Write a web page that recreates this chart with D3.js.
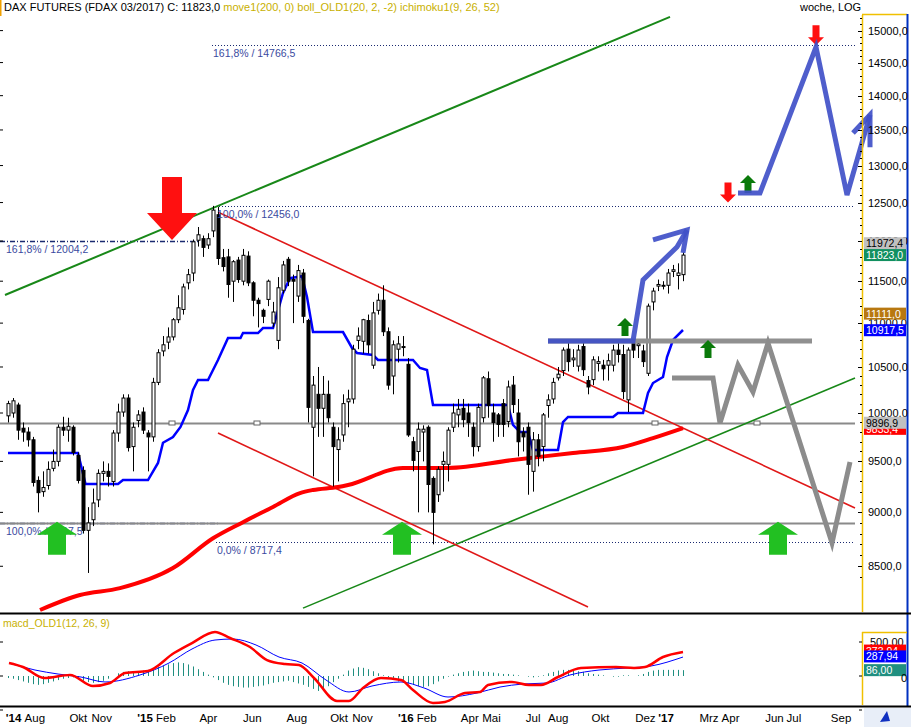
<!DOCTYPE html>
<html><head><meta charset="utf-8">
<script src="https://cdn.jsdelivr.net/npm/d3@7/dist/d3.min.js"></script>
<style>body{margin:0;background:#fff}svg{display:block;font-family:"Liberation Sans",Arial,sans-serif}</style>
</head><body><svg id="c" width="911" height="727"></svg>
<script>
// ---- data (weekly candles, index 0 = first week of Jul 2014) ----
const opens=[9970,10000,10085,9840,9800,9720,9310,9200,9260,9430,9500,9850,9820,9850,9560,9410,8830,8930,9120,9380,9400,9300,9790,10010,10160,9650,9920,10010,9790,9750,10330,10680,10780,10840,11040,11160,11480,11600,12010,12030,11950,12130,12340,11790,11800,11500,11760,11500,11810,11480,11270,11150,11280,11000,10800,11390,11770,11520,11320,11600,11030,9850,10200,10050,10200,9850,9620,9770,10120,10150,10800,10790,11030,10520,11150,11270,10900,10400,10700,10720,10530,9700,9600,9800,9850,9330,9170,9470,9470,9850,9980,10050,10000,9850,9650,9950,10370,10000,9980,10100,9910,10300,10000,9800,9850,9400,9720,9650,10080,10150,10380,10460,10700,10580,10510,10730,10350,10360,10540,10520,10520,10520,10690,10640,10140,10770,10740,10680,10430,11250,11440,11440,11450,11620,11570,11580];
const highs=[10130,10160,10110,9900,9850,9750,9350,9400,9500,9620,9880,9960,9950,9870,9590,9450,9050,9230,9420,9500,9480,9820,10100,10200,10200,9900,10030,10060,9820,10380,10700,10850,10950,11060,11330,11470,11650,12020,12180,12070,12100,12456,12440,11900,11900,11760,11800,11900,11870,11500,11300,11170,11520,11250,11550,11750,11800,11580,11700,11650,11050,10400,10500,10400,10350,9900,9850,10200,10250,10750,10950,11050,11100,11250,11350,11450,10950,10800,10850,10850,10600,9750,9900,9870,9870,9350,9450,9600,9850,10100,10150,10150,10100,9900,10100,10400,10450,10100,10000,10150,10350,10400,10150,9850,9900,9800,9780,10000,10200,10380,10500,10720,10780,10700,10750,10800,10400,10620,10620,10580,10650,10750,10800,10750,10720,10800,10800,10750,11230,11420,11520,11500,11650,11700,11720,11860];
const lows=[9900,9950,9720,9700,9650,9250,9000,9150,9220,9400,9450,9760,9700,9560,9280,8800,8440,8870,9050,9300,9250,9250,9700,9960,9600,9400,9850,9780,9400,9700,10300,10620,10700,10800,11000,11100,11400,11500,11930,11800,11900,12050,11700,11620,11300,11250,11480,11450,11440,11080,10950,11000,11200,10950,10700,11350,11440,11000,11250,11000,9900,9350,9750,9750,9900,9250,9300,9700,9850,10100,10700,10650,10650,10480,11100,10850,10250,10200,10550,10620,9750,9400,9000,9500,9000,8700,9100,9200,9300,9800,9850,9850,9750,9550,9600,9900,9950,9700,9750,9750,9850,10000,9550,9600,9170,9200,9450,9500,9950,10100,10350,10400,10450,10500,10450,10400,10200,10300,10450,10350,10350,10450,10550,10150,10010,10600,10600,10500,10400,11150,11380,11400,11350,11550,11400,11500];
const closes=[10100,10130,9820,9800,9720,9290,9190,9240,9420,9500,9850,9820,9860,9590,9310,8830,8900,9090,9380,9400,9350,9790,10010,10160,9640,9850,9980,9820,9750,10330,10660,10750,10840,11040,11180,11430,11580,11990,12080,11920,12030,12400,11780,11680,11460,11740,11520,11820,11480,11270,11230,11080,11500,11130,11420,11700,11500,11500,11630,11080,10060,10300,10050,10200,9950,9650,9720,10100,10150,10700,10850,11040,10750,11120,11270,10900,10300,10750,10760,10730,9770,9510,9830,9830,9270,9000,9420,9500,9820,10000,10040,9930,9900,9650,10060,10380,10080,9900,9880,9880,10280,10090,9700,9750,9470,9720,9550,9980,10140,10330,10420,10690,10560,10600,10690,10470,10280,10580,10560,10480,10570,10690,10640,10230,10690,10690,10760,10560,11200,11380,11460,11450,11600,11640,11600,11823];
// ichimoku line (week index, value)
const ichiIdx=[0,14,15.5,22,23,28,30,31,33,34.5,36,37,38,40,42,44,46.5,47,50,51,53,55,56.4,58.8,59.8,61,67,68.8,69.8,73,74,81,82.4,83.8,85,100,101,102.4,104,105,110,111,112,121,122,127,128,129,131,131.8,133,135];
const ichiVal=[9585,9585,9275,9275,9314,9314,9484,9690,9749,9853,10032,10247,10356,10356,10578,10828,10828,10885,10885,10942,10942,11358,11537,11561,11310,10896,10896,10714,10657,10634,10578,10578,10489,10467,10085,10085,9874,9800,9800,9615,9615,9905,9958,9958,10000,10000,10214,10323,10389,10611,10805,10920];
// 200 moving average
const maIdx=[6.4,14.4,22.4,33,41,47,53,58.4,61,66,68,79,88,101,113,123,129,135];
const maVal=[8115,8245,8305,8484,8756,8907,9052,9186,9216,9245,9265,9434,9434,9514,9585,9646,9738,9842];
// MACD
const macdX=[9,23,44,70,93,110,125,148,174,192,215,230,250,267,285,299,314,337,349,363,381,401,413,433,445,465,480,488,512,529,541,558,581,616,634,645,663,683];
const macdV=[191,132,-29,15,-147,-103,44,74,338,485,647,559,426,235,176,162,-29,-368,-368,-176,-29,-59,-206,-397,-382,-250,-235,-132,-88,-132,-132,-15,118,132,118,132,279,353];
const sigX=[9,35,58,81,105,140,169,192,215,233,256,279,302,326,349,372,401,424,448,477,500,523,547,570,599,628,651,683];
const sigV=[191,88,29,-15,-88,15,191,397,529,544,456,279,191,-59,-235,-147,-88,-176,-309,-250,-162,-118,-103,15,88,118,147,279];
const hist=[-30,-40,-60,-80,-100,-120,-130,-120,-100,-80,-60,-40,-30,-20,-40,-70,-90,-100,-90,-70,-40,0,40,60,70,60,70,80,90,110,130,150,170,190,200,190,170,140,100,60,20,-20,-60,-100,-130,-150,-160,-170,-170,-160,-150,-140,-120,-100,-90,-80,-70,-90,-110,-130,-160,-190,-220,-200,-150,-90,-40,20,80,110,130,120,100,70,40,10,-20,-50,-80,-100,-110,-130,-150,-160,-150,-120,-80,-40,-10,20,40,60,70,80,70,60,60,50,40,30,30,20,10,0,-10,-20,-10,10,40,60,80,90,90,80,70,60,40,30,20,10,0,-10,-10,10,10,0,10,30,60,80,90,90,90,90,90,86];
const priceTicks=[8500,9000,9500,10000,10500,11000,11500,12000,12500,13000,13500,14000,14500,15000];
const monthLabels=[["2014-08-01","'14","Aug"],["2014-10-01","","Okt"],["2014-11-01","","Nov"],["2015-02-01","'15","Feb"],["2015-04-01","","Apr"],["2015-06-01","","Jun"],["2015-08-01","","Aug"],["2015-10-01","","Okt"],["2015-11-01","","Nov"],["2016-02-01","'16","Feb"],["2016-04-01","","Apr"],["2016-05-01","","Mai"],["2016-07-01","","Jul"],["2016-08-01","","Aug"],["2016-10-01","","Okt"],["2016-12-01","","Dez"],["2017-01-01","'17",""],["2017-03-01","","Mrz"],["2017-04-01","","Apr"],["2017-06-01","","Jun"],["2017-07-01","","Jul"],["2017-09-01","","Sep"]];
// annotations [weekIndex, price]
const chanUp=[[-0.6,11333],[132.4,15219]], chanLow=[[59,8131],[169.4,10378]];
const trendDn=[[42,12374],[169.4,9042]], trendDn2=[[42,9790],[116,8140]];
const bluePath=[[108,10794],[125,10794],[127,11515],[133.8,11925],[135.8,12142]];
const blueHead=[[129,12014],[135.8,12142],[135,11850]];
const blueProj=[[146,12627],[150.4,12627],[161.6,14740],[167.8,12600],[172.4,13717]];
const blueProjHead=[[169,13456],[172.4,13717],[172.4,13256]];
const grayProj=[[132.8,10378],[141,10378],[142.4,9894],[146,10522],[149,10225],[152,10770],[164.8,8714],[168.4,9494]];
const grayRes=[[108,10794],[160.8,10794]];
const bigRed=[[32.8,12014]], bigGreen=[[9.8,8910],[78.8,8910],[154,8910]];
const smallGreen=[[123.4,11060],[140,10805],[148,12870]], smallRed=[[144,12500],[161.6,14770]];
const fibLines=[{p:14766.5,x0:40.8,t:"161,8% / 14766,5"},{p:12456,x0:41.6,t:"100,0% / 12456,0"},{p:8717.4,x0:41.6,t:"0,0% / 8717,4"}];
const fibLeft=[{p:12004.2,x1:38.4,t:"161,8% / 12004,2"},{p:8897.5,x1:42.4,t:"100,0% / 8897,5"}];
const valueBoxes=[["11972,4",11972.4,"#c0c0c0","#000"],["11823,0",11823,"#119060","#fff"],["11111,0",11111,"#b87810","#fff"],["10917,5",10917.5,"#0000ff","#fff"],["9833,4",9833.4,"#ff0000","#fff"],["9896,9",9896.9,"#c0c0c0","#000"]];

// ---- scales ----
const svg=d3.select("#c");
const x=d3.scaleLinear().domain([0,169.4]).range([8,855]);
const y=d3.scaleLog().domain([10000,15000]).range([413,30.6]);
const t0=new Date(2014,6,7);
const xd=d=>x((d-t0)/(7*864e5));
const ym=d3.scaleLinear().domain([0,500]).range([676,642]);
const P=a=>[x(a[0]),y(a[1])];
const line=d3.line();

svg.append("defs").append("clipPath").attr("id","mc").append("rect").attr("x",0).attr("y",15).attr("width",862).attr("height",598);
const g=svg.append("g").attr("clip-path","url(#mc)");

function hl(p,x0,x1,col,w,dash){g.append("line").attr("x1",x0).attr("x2",x1).attr("y1",Math.round(y(p))+.5).attr("y2",Math.round(y(p))+.5).attr("stroke",col).attr("stroke-width",w).attr("stroke-dasharray",dash||null);}
fibLines.forEach(f=>hl(f.p,x(f.x0),855,"#1a2a70",1,"1,2"));
fibLeft.forEach(f=>hl(f.p,0,x(f.x1),"#1a2a70",1.3,"5,2,1,2"));
hl(9896.9,0,855,"#8a8a8a",2);hl(8897.5,0,855,"#8a8a8a",2);
[172,257,655,757].forEach(xx=>g.append("rect").attr("x",xx-3).attr("y",Math.round(y(9896.9))-2).attr("width",6).attr("height",4).attr("fill","#fff").attr("stroke","#666"));

[[chanUp,"#188818",2],[chanLow,"#188818",1.6],[trendDn,"#e01818",1.6],[trendDn2,"#e01818",1.6]].forEach(([d,c,w])=>g.append("path").attr("d",line(d.map(P))).attr("stroke",c).attr("stroke-width",w).attr("fill","none"));

g.append("path").attr("d",d3.line().curve(d3.curveMonotoneX)(maIdx.map((v,i)=>[x(v),y(maVal[i])]))).attr("stroke","#ff0000").attr("stroke-width",4).attr("fill","none");
g.append("path").attr("d",line(ichiIdx.map((v,i)=>[x(v),y(ichiVal[i])]))).attr("stroke","#0000ff").attr("stroke-width",2.5).attr("fill","none");

closes.forEach((c,i)=>{const cx=Math.round(x(i))+.5,o=opens[i];
 g.append("line").attr("x1",cx).attr("x2",cx).attr("y1",y(highs[i])).attr("y2",y(lows[i])).attr("stroke","#000");
 const top=y(Math.max(o,c)),bot=y(Math.min(o,c));
 g.append("rect").attr("x",cx-1.5).attr("y",top).attr("width",3).attr("height",Math.max(1,bot-top)).attr("fill",c>=o?"#fff":"#000").attr("stroke","#000").attr("stroke-width",1);
});

g.append("path").attr("d",line(grayRes.map(P))).attr("stroke","#909090").attr("stroke-width",5).attr("fill","none");
g.append("path").attr("d",line(grayProj.map(P))).attr("stroke","#8c8c8c").attr("stroke-width",5).attr("fill","none");
fibLines.forEach(f=>g.append("text").attr("x",x(f.x0)+1).attr("y",y(f.p)+12).text(f.t).attr("font-size",10.5).attr("fill","#3a4aa0"));
fibLeft.forEach(f=>g.append("text").attr("x",6).attr("y",y(f.p)+12).text(f.t).attr("font-size",10.5).attr("fill","#3a4aa0"));

function arrow(px,py,dir,hw,hh,sw,sl,col){const s=dir;
 const pts=[[px,py],[px-hw,py-s*hh],[px-sw,py-s*hh],[px-sw,py-s*(hh+sl)],[px+sw,py-s*(hh+sl)],[px+sw,py-s*hh],[px+hw,py-s*hh]];
 svg.append("polygon").attr("points",pts.map(p=>p.join(",")).join(" ")).attr("fill",col);}
bigRed.forEach(a=>arrow(x(a[0]),y(a[1]),1,25,27,10,36,"#ff1010"));
bigGreen.forEach(a=>arrow(x(a[0]),y(a[1]),-1,20,13,9,20,"#22c022"));
smallGreen.forEach(a=>arrow(x(a[0]),y(a[1]),-1,8,8,3.5,10,"#0a7a0a"));
smallRed.forEach(a=>arrow(x(a[0]),y(a[1]),1,8,8,3.5,12,"#ff1010"));

const bl=svg.append("g").attr("fill","none").attr("stroke","#4050c8").attr("stroke-width",5).attr("stroke-opacity",.92);
[bluePath,blueHead,blueProj,blueProjHead].forEach(d=>bl.append("path").attr("d",line(d.map(P))));

svg.append("line").attr("x1",862.5).attr("x2",862.5).attr("y1",15).attr("y2",612).attr("stroke","#f0c000").attr("stroke-width",1.5);
svg.append("line").attr("x1",862).attr("x2",907).attr("y1",14.5).attr("y2",14.5).attr("stroke","#f0c000").attr("stroke-width",1.5);
svg.append("line").attr("x1",907.5).attr("x2",907.5).attr("y1",14).attr("y2",706).attr("stroke","#0030c0").attr("stroke-width",2);
svg.append("line").attr("x1",0).attr("x2",911).attr("y1",613.5).attr("y2",613.5).attr("stroke","#000").attr("stroke-width",2);
svg.append("line").attr("x1",0).attr("x2",911).attr("y1",706.5).attr("y2",706.5).attr("stroke","#000").attr("stroke-width",2);
svg.append("line").attr("x1",0.5).attr("x2",0.5).attr("y1",0).attr("y2",16).attr("stroke","#f0a000").attr("stroke-width",2);

const ax=svg.append("g");
d3.range(8400,15300,100).forEach(v=>{const yy=Math.round(y(v))+.5;if(yy<16||yy>610)return;
 ax.append("line").attr("x1",v%500===0?858:860).attr("x2",862).attr("y1",yy).attr("y2",yy).attr("stroke","#000");});
priceTicks.forEach(v=>ax.append("text").attr("x",868).attr("y",y(v)+4).text(d3.format(".1f")(v).replace(".",",")).attr("font-size",11));
valueBoxes.forEach(([t,v,bg,fg])=>{const yy=y(v);ax.append("rect").attr("x",864).attr("y",yy-6).attr("width",42).attr("height",12).attr("fill",bg);
 ax.append("text").attr("x",866).attr("y",yy+4).text(t).attr("font-size",10.5).attr("fill",fg);});
d3.range(8500,15100,500).forEach(v=>svg.append("line").attr("x1",0).attr("x2",3).attr("y1",y(v)).attr("y2",y(v)).attr("stroke","#000"));

const h=svg.append("text").attr("x",4).attr("y",11).attr("font-size",11);
h.append("tspan").text("DAX FUTURES (FDAX 03/2017) C: 11823,0 ").attr("fill","#000");
h.append("tspan").text("move1(200, 0) boll_OLD1(20, 2, -2) ichimoku1(9, 26, 52)").attr("fill","#c8b000");
svg.append("text").attr("x",800).attr("y",11).text("woche, LOG").attr("font-size",11);

svg.append("text").attr("x",3).attr("y",627).text("macd_OLD1(12, 26, 9)").attr("font-size",10.5).attr("fill","#c8b000");
const mg=svg.append("g");
hist.forEach((v,i)=>mg.append("line").attr("x1",Math.round(x(i))+.5).attr("x2",Math.round(x(i))+.5).attr("y1",ym(0)).attr("y2",ym(v)).attr("stroke","#208f80").attr("stroke-width",1));
mg.append("path").attr("d",d3.line().curve(d3.curveMonotoneX)(sigX.map((v,i)=>[v,ym(sigV[i])]))).attr("stroke","#0000ff").attr("stroke-width",1).attr("fill","none");
mg.append("path").attr("d",d3.line().curve(d3.curveMonotoneX)(macdX.map((v,i)=>[v,ym(macdV[i])]))).attr("stroke","#ff0000").attr("stroke-width",2.5).attr("fill","none");
svg.append("line").attr("x1",862.5).attr("x2",862.5).attr("y1",632).attr("y2",705).attr("stroke","#f0c000").attr("stroke-width",1.5);
svg.append("line").attr("x1",862).attr("x2",907).attr("y1",632.5).attr("y2",632.5).attr("stroke","#f0c000").attr("stroke-width",1.5);
[-500,0,500].forEach(v=>{svg.append("line").attr("x1",859).attr("x2",862).attr("y1",ym(v)).attr("y2",ym(v)).attr("stroke","#000");svg.append("line").attr("x1",0).attr("x2",3).attr("y1",ym(v)).attr("y2",ym(v)).attr("stroke","#000");});
svg.append("text").attr("x",870).attr("y",ym(500)+4).text("500,00").attr("font-size",11);
[["373,94",373.94,"#ff0000"],["287,94",287.94,"#0000ff"],["86,00",86,"#208f80"]].forEach(([t,v,bg])=>{svg.append("rect").attr("x",864).attr("y",ym(v)-6).attr("width",42).attr("height",12).attr("fill",bg);svg.append("text").attr("x",866).attr("y",ym(v)+4).text(t).attr("font-size",10.5).attr("fill","#fff");});
svg.append("text").attr("x",901).attr("y",ym(0)+6).text("0").attr("font-size",11);

monthLabels.forEach(([d,yr,m])=>{const xx=xd(new Date(d));
 const tx=svg.append("text").attr("y",722).attr("font-size",11.5);
 if(yr&&m){tx.attr("x",xx-20);tx.append("tspan").text(yr+" ").attr("font-weight","bold");tx.append("tspan").text(m);}
 else if(yr){tx.attr("x",xx+1).attr("font-weight","bold").text(yr);}
 else tx.attr("x",xx).text(m);});
svg.append("rect").attr("x",864).attr("y",708).attr("width",47).attr("height",19).attr("fill","#e8eef8");
svg.append("path").attr("d","M880,722 L887,711 L890,721 Z").attr("fill","#1030c0");
</script></body></html>
